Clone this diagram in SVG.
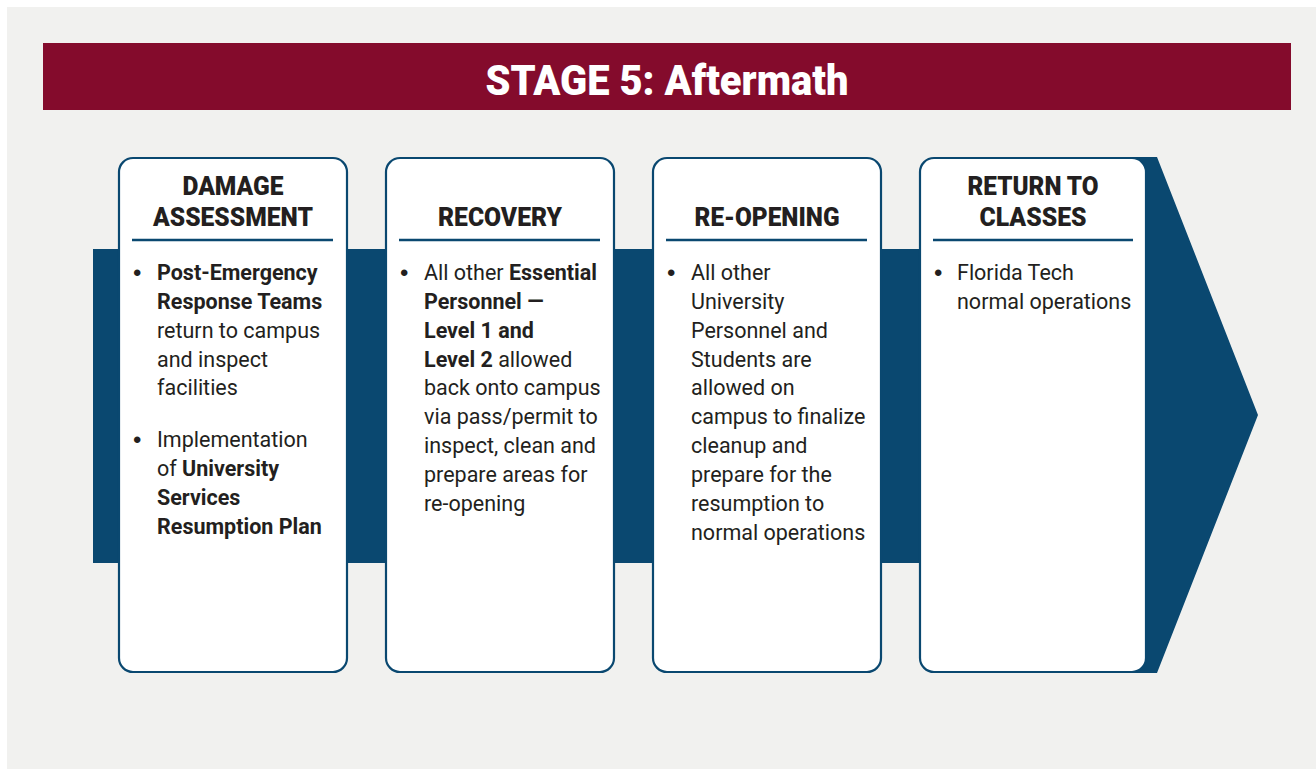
<svg xmlns="http://www.w3.org/2000/svg" width="1316" height="769" viewBox="0 0 1316 769">
<style>
.card{fill:#ffffff;stroke:#0a4870;stroke-width:2.2}
.rule{stroke:#0a4870;stroke-width:2.5}
.hd{font-family:Roboto,"Liberation Sans",sans-serif;font-weight:900;font-size:26px;fill:#231f20;text-anchor:middle}
.tx{font-family:Roboto,"Liberation Sans",sans-serif;font-size:21.5px;fill:#231f20}
.bu{font-family:"Liberation Sans",sans-serif;font-size:24px;fill:#231f20}
.b{font-weight:700}
</style>
<rect x="0" y="0" width="1316" height="769" fill="#ffffff"/>
<rect x="7" y="7" width="1309" height="762" fill="#f1f1ef"/>
<g id="header">
<rect x="43" y="43" width="1248" height="67" fill="#840b2c"/>
<text x="667" y="95" font-family="Roboto,'Liberation Sans',sans-serif" font-weight="900" font-size="42" fill="#ffffff" text-anchor="middle" textLength="363" lengthAdjust="spacingAndGlyphs">STAGE 5: Aftermath</text>
</g>
<g id="connectors">
<polygon points="93,249 1040,249 1040,157 1157,157 1258,415 1157,673 1040,673 1040,563 93,563" fill="#0a4870"/>
</g>
<g id="damage-assessment">
<rect class="card" x="119" y="158" width="228" height="514" rx="14"/>
<text class="hd" x="233" y="195" textLength="101" lengthAdjust="spacingAndGlyphs">DAMAGE</text>
<text class="hd" x="233" y="226" textLength="160" lengthAdjust="spacingAndGlyphs">ASSESSMENT</text>
<line class="rule" x1="132" y1="240" x2="333" y2="240"/>
<text class="bu" x="133" y="281">•</text>
<text class="tx" x="157" y="280"><tspan class="b">Post-Emergency</tspan></text>
<text class="tx" x="157" y="309"><tspan class="b">Response Teams</tspan></text>
<text class="tx" x="157" y="338">return to campus</text>
<text class="tx" x="157" y="367">and inspect</text>
<text class="tx" x="157" y="395">facilities</text>
<text class="bu" x="133" y="448">•</text>
<text class="tx" x="157" y="447">Implementation</text>
<text class="tx" x="157" y="476">of <tspan class="b">University</tspan></text>
<text class="tx" x="157" y="505"><tspan class="b">Services</tspan></text>
<text class="tx" x="157" y="534"><tspan class="b">Resumption Plan</tspan></text>
</g>
<g id="recovery">
<rect class="card" x="386" y="158" width="228" height="514" rx="14"/>
<text class="hd" x="500" y="226" textLength="124" lengthAdjust="spacingAndGlyphs">RECOVERY</text>
<line class="rule" x1="399" y1="240" x2="600" y2="240"/>
<text class="bu" x="400" y="281">•</text>
<text class="tx" x="424" y="280">All other <tspan class="b">Essential</tspan></text>
<text class="tx" x="424" y="309"><tspan class="b">Personnel —</tspan></text>
<text class="tx" x="424" y="338"><tspan class="b">Level 1 and</tspan></text>
<text class="tx" x="424" y="367"><tspan class="b">Level 2</tspan> allowed</text>
<text class="tx" x="424" y="395">back onto campus</text>
<text class="tx" x="424" y="424">via pass/permit to</text>
<text class="tx" x="424" y="453">inspect, clean and</text>
<text class="tx" x="424" y="482">prepare areas for</text>
<text class="tx" x="424" y="511">re-opening</text>
</g>
<g id="re-opening">
<rect class="card" x="653" y="158" width="228" height="514" rx="14"/>
<text class="hd" x="767" y="226" textLength="145" lengthAdjust="spacingAndGlyphs">RE-OPENING</text>
<line class="rule" x1="666" y1="240" x2="867" y2="240"/>
<text class="bu" x="667" y="281">•</text>
<text class="tx" x="691" y="280">All other</text>
<text class="tx" x="691" y="309">University</text>
<text class="tx" x="691" y="338">Personnel and</text>
<text class="tx" x="691" y="367">Students are</text>
<text class="tx" x="691" y="395">allowed on</text>
<text class="tx" x="691" y="424">campus to finalize</text>
<text class="tx" x="691" y="453">cleanup and</text>
<text class="tx" x="691" y="482">prepare for the</text>
<text class="tx" x="691" y="511">resumption to</text>
<text class="tx" x="691" y="540">normal operations</text>
</g>
<g id="return-to-classes">
<rect class="card" x="920" y="158" width="226" height="514" rx="14"/>
<text class="hd" x="1033" y="195" textLength="131" lengthAdjust="spacingAndGlyphs">RETURN TO</text>
<text class="hd" x="1033" y="226" textLength="107" lengthAdjust="spacingAndGlyphs">CLASSES</text>
<line class="rule" x1="933" y1="240" x2="1133" y2="240"/>
<text class="bu" x="934" y="281">•</text>
<text class="tx" x="957" y="280">Florida Tech</text>
<text class="tx" x="957" y="309">normal operations</text>
</g>
</svg>
